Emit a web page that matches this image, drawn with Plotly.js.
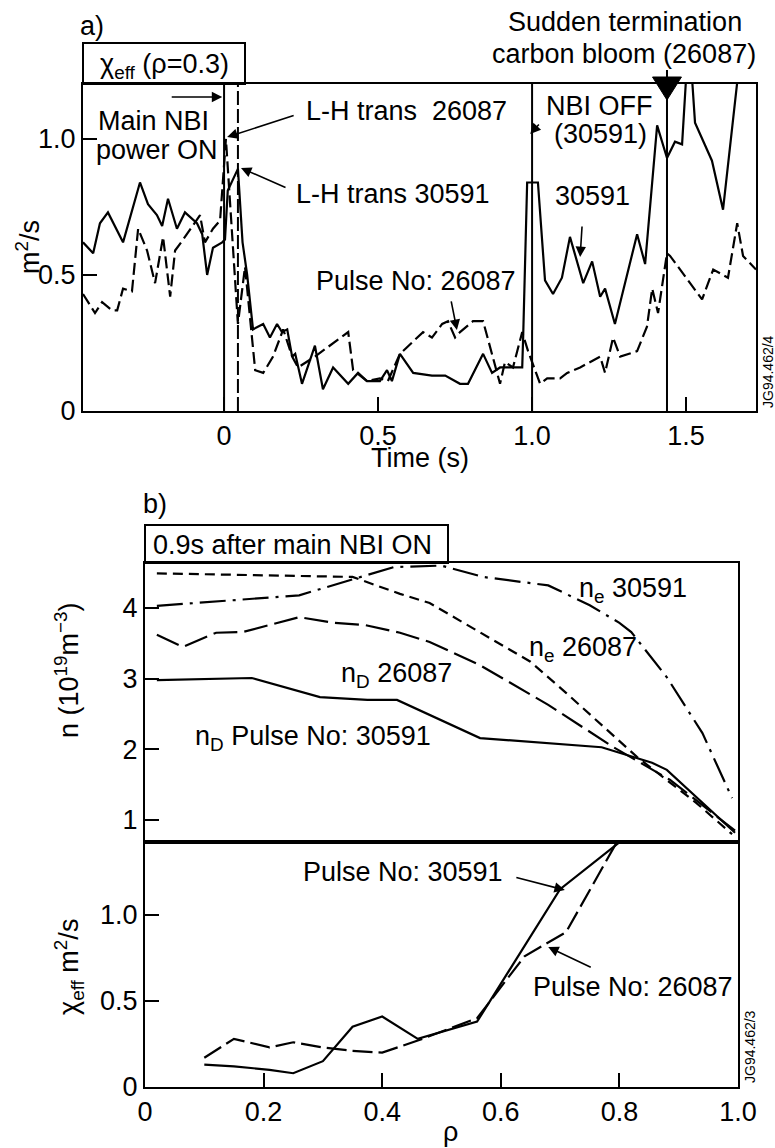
<!DOCTYPE html>
<html>
<head>
<meta charset="utf-8">
<script src="https://cdn.plot.ly/plotly-3.0.1.min.js"></script>
<style>
  html, body { margin: 0; padding: 0; background: #fff; }
  #chart { width: 775px; height: 1148px; }
</style>
</head>
<body>
<div id="chart"></div>
<script>
// ---- (a) chi_eff at rho = 0.3 versus time ----
const time30591 = [-0.458, -0.425, -0.403, -0.377, -0.328, -0.273, -0.247, -0.218, -0.201, -0.182, -0.153, -0.127, -0.088, -0.071, -0.055, -0.036, -0.006, 0.003, 0.012, 0.045, 0.060, 0.075, 0.094, 0.127, 0.149, 0.172, 0.188, 0.205, 0.221, 0.231, 0.253, 0.295, 0.321, 0.354, 0.403, 0.435, 0.464, 0.506, 0.529, 0.545, 0.571, 0.614, 0.675, 0.718, 0.766, 0.792, 0.841, 0.870, 0.896, 0.968, 0.971, 0.984, 1.019, 1.042, 1.068, 1.097, 1.123, 1.166, 1.195, 1.221, 1.237, 1.269, 1.341, 1.367, 1.406, 1.438, 1.464, 1.487, 1.503, 1.516, 1.529, 1.584, 1.620, 1.675];
const chi30591 = [0.62, 0.58, 0.69, 0.73, 0.62, 0.84, 0.76, 0.72, 0.68, 0.78, 0.67, 0.73, 0.69, 0.65, 0.50, 0.60, 0.62, 0.63, 0.81, 0.89, 0.62, 0.50, 0.30, 0.32, 0.27, 0.32, 0.29, 0.30, 0.20, 0.21, 0.10, 0.24, 0.08, 0.16, 0.10, 0.14, 0.11, 0.11, 0.15, 0.11, 0.21, 0.14, 0.13, 0.13, 0.10, 0.10, 0.21, 0.14, 0.16, 0.16, 0.27, 0.84, 0.84, 0.48, 0.43, 0.49, 0.64, 0.47, 0.55, 0.42, 0.45, 0.32, 0.65, 0.54, 1.05, 0.93, 0.99, 0.98, 1.28, 1.28, 1.06, 0.92, 0.74, 1.30];

const time26087 = [-0.458, -0.419, -0.396, -0.364, -0.347, -0.328, -0.299, -0.279, -0.250, -0.224, -0.198, -0.175, -0.159, -0.133, -0.078, -0.062, -0.036, -0.013, 0.006, 0.045, 0.068, 0.101, 0.127, 0.159, 0.192, 0.221, 0.240, 0.295, 0.403, 0.419, 0.464, 0.506, 0.532, 0.571, 0.646, 0.675, 0.708, 0.727, 0.750, 0.766, 0.808, 0.841, 0.896, 0.912, 0.938, 0.968, 0.987, 1.026, 1.049, 1.091, 1.114, 1.156, 1.221, 1.237, 1.263, 1.286, 1.341, 1.373, 1.390, 1.409, 1.438, 1.448, 1.552, 1.588, 1.636, 1.666, 1.685, 1.727];
const chi26087 = [0.43, 0.36, 0.40, 0.37, 0.37, 0.45, 0.44, 0.67, 0.59, 0.47, 0.64, 0.42, 0.59, 0.63, 0.72, 0.62, 0.67, 0.70, 1.00, 0.32, 0.53, 0.15, 0.14, 0.20, 0.30, 0.20, 0.16, 0.20, 0.29, 0.15, 0.11, 0.12, 0.11, 0.21, 0.29, 0.27, 0.32, 0.33, 0.27, 0.29, 0.33, 0.33, 0.10, 0.18, 0.16, 0.29, 0.22, 0.10, 0.12, 0.12, 0.14, 0.16, 0.20, 0.14, 0.27, 0.20, 0.22, 0.31, 0.45, 0.36, 0.58, 0.57, 0.41, 0.52, 0.49, 0.69, 0.57, 0.52];

// event markers (s): main NBI on, L-H 30591, NBI off, carbon bloom
const nbiOnTime = 0;
const lhTime30591 = 0.045;
const nbiOffTime = 1.0;
const bloomTime = 1.438;

const timeTicks = [0, 0.5, 1.0, 1.5];
const timeTickText = ['0', '0.5', '1.0', '1.5'];
const chiTicksA = [0, 0.5, 1.0];
const chiTickTextA = ['0', '0.5', '1.0'];

// ---- (b) profiles 0.9 s after main NBI on ----
const rhoNe30591 = [0.02, 0.26, 0.42, 0.50, 0.57, 0.68, 0.75, 0.80, 0.82, 0.88, 0.94, 0.99];
const ne30591 = [4.03, 4.18, 4.58, 4.60, 4.44, 4.32, 4.04, 3.79, 3.66, 3.02, 2.23, 1.31];

const rhoNe26087 = [0.02, 0.35, 0.43, 0.48, 0.65, 0.71, 0.83, 0.93, 0.99];
const ne26087 = [4.49, 4.44, 4.20, 4.07, 3.24, 2.80, 1.89, 1.24, 0.80];

const rhoNd26087 = [0.02, 0.064, 0.12, 0.165, 0.26, 0.32, 0.37, 0.43, 0.48, 0.565, 0.68, 0.79, 0.885, 0.995];
const nd26087 = [3.62, 3.45, 3.65, 3.66, 3.87, 3.79, 3.76, 3.65, 3.52, 3.19, 2.63, 2.03, 1.57, 0.85];

const rhoNd30591 = [0.02, 0.18, 0.295, 0.375, 0.425, 0.565, 0.77, 0.855, 0.88, 0.935, 0.995];
const nd30591 = [2.98, 3.01, 2.74, 2.70, 2.70, 2.16, 2.03, 1.81, 1.71, 1.28, 0.82];

const rhoChi30591 = [0.10, 0.15, 0.21, 0.25, 0.30, 0.35, 0.40, 0.46, 0.56, 0.70, 0.81];
const chiProf30591 = [0.13, 0.12, 0.10, 0.08, 0.15, 0.35, 0.41, 0.28, 0.38, 1.15, 1.45];

const rhoChi26087 = [0.10, 0.15, 0.21, 0.25, 0.30, 0.35, 0.40, 0.46, 0.56, 0.64, 0.71, 0.80];
const chiProf26087 = [0.17, 0.28, 0.23, 0.26, 0.23, 0.21, 0.20, 0.27, 0.40, 0.76, 0.90, 1.45];

const rhoTicks = [0, 0.2, 0.4, 0.6, 0.8, 1.0];
const rhoTickText = ['0', '0.2', '0.4', '0.6', '0.8', '1.0'];
const nTicks = [1, 2, 3, 4];
const chiTicksB = [0, 0.5, 1.0];
const chiTickTextB = ['0', '0.5', '1.0'];

// ---- page geometry helpers (pixel -> paper) ----
const W = 775, H = 1148;
const px = x => x / W;
const py = y => 1 - y / H;

const FONT = 'Liberation Sans, Arial, Helvetica, sans-serif';
const BLACK = '#000';
const LW = 2.2;

const traces = [
  { x: time30591, y: chi30591, xaxis: 'x', yaxis: 'y', mode: 'lines',
    line: { color: BLACK, width: LW } },
  { x: time26087, y: chi26087, xaxis: 'x', yaxis: 'y', mode: 'lines',
    line: { color: BLACK, width: LW, dash: '12px,5px' } },

  { x: rhoNe30591, y: ne30591, xaxis: 'x3', yaxis: 'y2', mode: 'lines',
    line: { color: BLACK, width: LW, dash: '26px,7px,3px,7px' } },
  { x: rhoNe26087, y: ne26087, xaxis: 'x3', yaxis: 'y2', mode: 'lines',
    line: { color: BLACK, width: LW, dash: '10px,6px' } },
  { x: rhoNd26087, y: nd26087, xaxis: 'x3', yaxis: 'y2', mode: 'lines',
    line: { color: BLACK, width: LW, dash: '24px,7px' } },
  { x: rhoNd30591, y: nd30591, xaxis: 'x3', yaxis: 'y2', mode: 'lines',
    line: { color: BLACK, width: LW } },

  { x: rhoChi30591, y: chiProf30591, xaxis: 'x2', yaxis: 'y3', mode: 'lines',
    line: { color: BLACK, width: LW } },
  { x: rhoChi26087, y: chiProf26087, xaxis: 'x2', yaxis: 'y3', mode: 'lines',
    line: { color: BLACK, width: LW, dash: '20px,6px' } }
];

const axisCommon = {
  showline: true, linecolor: BLACK, linewidth: 2, mirror: true,
  ticks: 'inside', ticklen: 14, tickwidth: 2, tickcolor: BLACK,
  showgrid: false, zeroline: false, fixedrange: true,
  tickfont: { family: FONT, size: 27, color: BLACK }
};

const timeRange = [-0.458, 1.727];
const chiRangeA = [0, 1.202];

const layout = {
  width: W, height: H,
  margin: { l: 0, r: 0, t: 0, b: 0 },
  paper_bgcolor: '#fff', plot_bgcolor: 'rgba(0,0,0,0)',
  showlegend: false,
  font: { family: FONT, size: 27, color: BLACK },

  xaxis: Object.assign({}, axisCommon, {
    domain: [px(83), px(756)], range: timeRange, anchor: 'y',
    tickmode: 'array', tickvals: timeTicks, ticktext: timeTickText
  }),
  yaxis: Object.assign({}, axisCommon, {
    domain: [py(411), py(84)], range: chiRangeA, anchor: 'x',
    tickmode: 'array', tickvals: chiTicksA, ticktext: chiTickTextA
  }),

  xaxis2: Object.assign({}, axisCommon, {
    domain: [px(145), px(738)], range: [0, 1], anchor: 'y3',
    tickmode: 'array', tickvals: rhoTicks, ticktext: rhoTickText
  }),
  xaxis3: Object.assign({}, axisCommon, {
    domain: [px(145), px(738)], range: [0, 1], anchor: 'y2', matches: 'x2',
    ticks: '', showticklabels: false
  }),
  yaxis2: Object.assign({}, axisCommon, {
    domain: [py(842), py(563)], range: [0.689, 4.637], anchor: 'x3',
    tickmode: 'array', tickvals: nTicks, ticktext: nTicks.map(String)
  }),
  yaxis3: Object.assign({}, axisCommon, {
    domain: [py(1087), py(842)], range: [0, 1.4244], anchor: 'x2',
    tickmode: 'array', tickvals: chiTicksB, ticktext: chiTickTextB
  }),

  shapes: [
    // event lines in (a)
    { type: 'line', xref: 'x', yref: 'y', x0: nbiOnTime, x1: nbiOnTime, y0: 0, y1: chiRangeA[1],
      line: { color: BLACK, width: 2 } },
    { type: 'line', xref: 'x', yref: 'y', x0: lhTime30591, x1: lhTime30591, y0: 0, y1: chiRangeA[1],
      line: { color: BLACK, width: 2, dash: '14px,4px' } },
    { type: 'line', xref: 'x', yref: 'y', x0: nbiOffTime, x1: nbiOffTime, y0: 0, y1: chiRangeA[1],
      line: { color: BLACK, width: 2 } },
    { type: 'line', xref: 'x', yref: 'paper', x0: bloomTime, x1: bloomTime, y0: py(411), y1: py(70),
      line: { color: BLACK, width: 2 } },
    // filled arrowhead marking the carbon bloom
    { type: 'path', xref: 'x', yref: 'paper',
      path: 'M ' + (bloomTime - 0.047) + ',' + py(77) + ' L ' + (bloomTime + 0.047) + ',' + py(77) +
            ' L ' + bloomTime + ',' + py(100) + ' Z',
      fillcolor: BLACK, line: { color: BLACK, width: 1 } },
    // header boxes
    { type: 'rect', xref: 'paper', yref: 'paper', x0: px(83), x1: px(245), y0: py(84), y1: py(43),
      line: { color: BLACK, width: 2 } },
    { type: 'rect', xref: 'paper', yref: 'paper', x0: px(145), x1: px(448), y0: py(563), y1: py(525),
      line: { color: BLACK, width: 2 } }
  ],
  annotations: []
};

function label(x, y, text, extra) {
  layout.annotations.push(Object.assign({
    xref: 'paper', yref: 'paper', x: px(x), y: py(y), text: text,
    showarrow: false, xanchor: 'center', yanchor: 'middle',
    font: { family: FONT, size: 27, color: BLACK }
  }, extra || {}));
}
function pointer(xref, yref, x, y, ax, ay) {
  layout.annotations.push({
    xref: xref, yref: yref, x: x, y: y, ax: ax, ay: ay, text: '',
    showarrow: true, arrowhead: 2, arrowsize: 1.3, arrowwidth: 1.6, arrowcolor: BLACK
  });
}

// (a) texts
label(92, 26, 'a)');
label(164, 66, 'χ<sub>eff</sub> (ρ=0.3)');
label(153, 121, 'Main NBI');
label(157, 150, 'power ON');
label(406, 111, 'L-H trans  26087');
label(393, 194, 'L-H trans 30591');
label(416, 281, 'Pulse No: 26087');
label(599, 106, 'NBI OFF');
label(600, 134, '(30591)');
label(592, 196, '30591');
label(625, 22, 'Sudden termination');
label(624, 54, 'carbon bloom (26087)');
label(28, 247, 'm<sup>2</sup>/s', { textangle: -90 });
label(420, 458, 'Time (s)');
label(768, 372, 'JG94.462/4', { textangle: -90, font: { family: FONT, size: 14, color: BLACK } });

pointer('x', 'y', -0.006, 1.154, -52, 0);
pointer('x', 'y', 0.010, 1.007, 68, -22);
pointer('x', 'y', 0.055, 0.893, 46, 20);
pointer('x', 'y', 0.756, 0.298, -6, -30);
pointer('x', 'y', 0.994, 1.018, 10, -11);
pointer('x', 'y', 1.156, 0.566, 2, -32);

// (b) texts
label(155, 504, 'b)');
label(292, 545, '0.9s after main NBI ON');
label(633, 590, 'n<sub>e</sub> 30591');
label(583, 649, 'n<sub>e</sub> 26087');
label(397, 675, 'n<sub>D</sub> 26087');
label(313, 738, 'n<sub>D</sub> Pulse No: 30591');
label(403, 872, 'Pulse No: 30591');
label(633, 987, 'Pulse No: 26087');
label(67, 670, 'n (10<sup>19</sup>m<sup>−3</sup>)', { textangle: -90 });
label(69, 967, 'χ<sub>eff</sub> m<sup>2</sup>/s', { textangle: -90 });
label(450, 1132, 'ρ');
label(750, 1047, 'JG94.462/3', { textangle: -90, font: { family: FONT, size: 14, color: BLACK } });

pointer('x2', 'y3', 0.708, 1.145, -50, -13);
pointer('x2', 'y3', 0.680, 0.814, 44, 21);

Plotly.newPlot('chart', traces, layout, { staticPlot: true, displayModeBar: false });
</script>
</body>
</html>
